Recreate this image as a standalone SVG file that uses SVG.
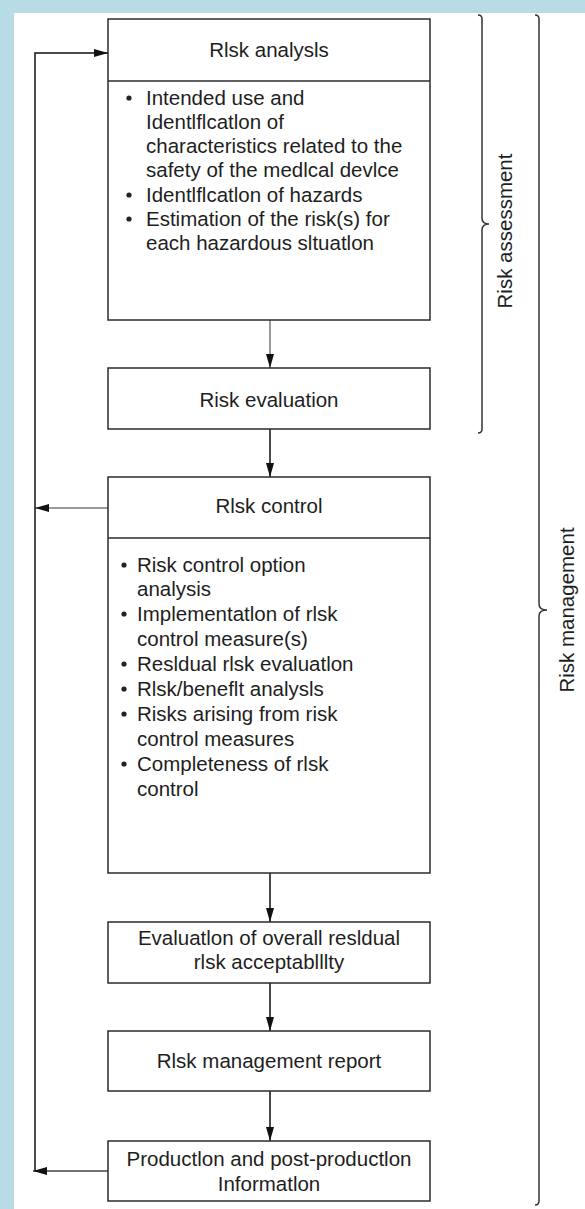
<svg xmlns="http://www.w3.org/2000/svg" width="585" height="1209" viewBox="0 0 585 1209">
<style>
.box{fill:#fff;stroke:#2b2b2b;stroke-width:1.5}
.sep{stroke:#2b2b2b;stroke-width:1.5}
.t{font-family:"Liberation Sans",Arial,sans-serif;font-size:20.5px;fill:#1e1e1e}
.c{text-anchor:middle}
.ln{fill:none;stroke:#111;stroke-width:1.5}
.gr{fill:none;stroke:#9a9a9a;stroke-width:2}
.br{fill:none;stroke:#333;stroke-width:1.5}
.bul{fill:#222}
</style>
<defs>
<marker id="ah" viewBox="0 0 14 8" refX="14" refY="4" markerWidth="14" markerHeight="8" markerUnits="userSpaceOnUse" orient="auto">
<path d="M0,0 L14,4 L0,8 Z" fill="#111"/>
</marker>
</defs>
<rect x="0" y="0" width="585" height="1209" fill="#b7dce6"/>
<rect x="14" y="13" width="571" height="1196" fill="#fff"/>

<g id="connectors">
<line class="gr" x1="270" y1="320" x2="270" y2="368" marker-end="url(#ah)"/>
<line class="ln" x1="270" y1="429" x2="270" y2="477" marker-end="url(#ah)"/>
<line class="ln" x1="270" y1="873" x2="270" y2="922" marker-end="url(#ah)"/>
<line class="ln" x1="270" y1="983" x2="270" y2="1031" marker-end="url(#ah)"/>
<line class="ln" x1="270" y1="1091" x2="270" y2="1141" marker-end="url(#ah)"/>
<line class="gr" x1="108" y1="508" x2="35" y2="508" marker-end="url(#ah)"/>
<line class="ln" x1="108" y1="1171" x2="33" y2="1171" style="stroke:#444" marker-end="url(#ah)"/>
<polyline class="ln" points="35,1171 35,53 108,53" marker-end="url(#ah)"/>
</g>

<g id="risk-analysis">
<rect class="box" x="108" y="19" width="322" height="301"/>
<line class="sep" x1="108" y1="81" x2="430" y2="81"/>
<text class="t c" x="269" y="57">Rlsk analysls</text>
<circle class="bul" cx="129" cy="98" r="2.6"/>
<circle class="bul" cx="129" cy="195" r="2.6"/>
<circle class="bul" cx="129" cy="219" r="2.6"/>
<text class="t" x="146" y="105">Intended use and</text>
<text class="t" x="146" y="129">Identlflcatlon of</text>
<text class="t" x="146" y="153">characteristics related to the</text>
<text class="t" x="146" y="177">safety of the medlcal devlce</text>
<text class="t" x="146" y="202">Identlflcatlon of hazards</text>
<text class="t" x="146" y="226">Estimation of the risk(s) for</text>
<text class="t" x="146" y="250">each hazardous sltuatlon</text>
</g>

<g id="risk-evaluation">
<rect class="box" x="108" y="368" width="322" height="61"/>
<text class="t c" x="269" y="407">Risk evaluation</text>
</g>

<g id="risk-control">
<rect class="box" x="108" y="477" width="322" height="396"/>
<line class="sep" x1="108" y1="538" x2="430" y2="538"/>
<text class="t c" x="269" y="513">Rlsk control</text>
<circle class="bul" cx="124" cy="565" r="2.6"/>
<circle class="bul" cx="124" cy="614" r="2.6"/>
<circle class="bul" cx="124" cy="664" r="2.6"/>
<circle class="bul" cx="124" cy="689" r="2.6"/>
<circle class="bul" cx="124" cy="714" r="2.6"/>
<circle class="bul" cx="124" cy="764" r="2.6"/>
<text class="t" x="137" y="572">Risk control option</text>
<text class="t" x="137" y="596">analysis</text>
<text class="t" x="137" y="621">Implementatlon of rlsk</text>
<text class="t" x="137" y="646">control measure(s)</text>
<text class="t" x="137" y="671">Resldual rlsk evaluatlon</text>
<text class="t" x="137" y="696">Rlsk/beneflt analysls</text>
<text class="t" x="137" y="721">Risks arising from risk</text>
<text class="t" x="137" y="746">control measures</text>
<text class="t" x="137" y="771">Completeness of rlsk</text>
<text class="t" x="137" y="796">control</text>
</g>

<g id="overall-residual">
<rect class="box" x="108" y="922" width="322" height="61"/>
<text class="t c" x="269" y="945">Evaluatlon of overall resldual</text>
<text class="t c" x="269" y="969">rlsk acceptablllty</text>
</g>

<g id="report">
<rect class="box" x="108" y="1031" width="322" height="60"/>
<text class="t c" x="269" y="1068">Rlsk management report</text>
</g>

<g id="production">
<rect class="box" x="108" y="1141" width="322" height="60"/>
<text class="t c" x="269" y="1166">Productlon and post-productlon</text>
<text class="t c" x="269" y="1191">Informatlon</text>
</g>

<g id="brace-assessment">
<path class="br" d="M478,15 Q482,15 482,19 V218 Q482,224 489,224 Q482,224 482,230 V429 Q482,433 478,433"/>
<text class="t c" transform="translate(512,231) rotate(-90)">Risk assessment</text>
</g>

<g id="brace-management">
<path class="br" d="M535,15 Q539,15 539,19 V604 Q539,610 547,610 Q539,610 539,616 V1201 Q539,1205 535,1205"/>
<text class="t c" transform="translate(574,610) rotate(-90)">Risk management</text>
</g>
</svg>
